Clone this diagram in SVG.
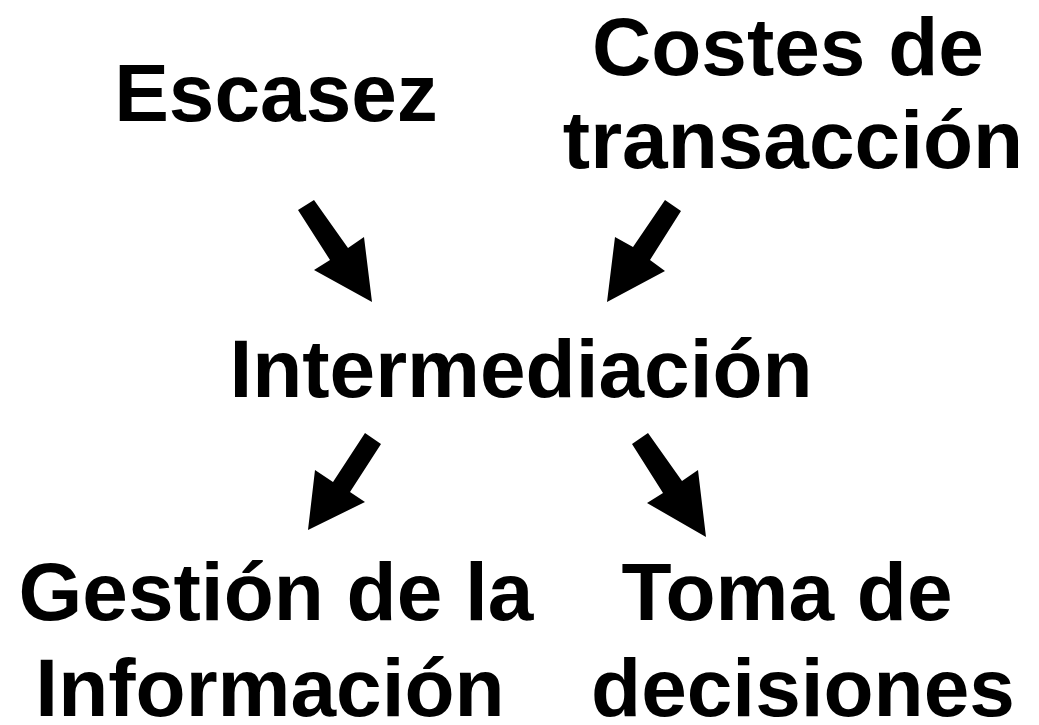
<svg xmlns="http://www.w3.org/2000/svg" width="1039" height="725" viewBox="0 0 1039 725">
<style>
text{font-family:"Liberation Sans",Arial,sans-serif;font-weight:bold;font-size:82px;fill:#000;text-anchor:middle}
.arrow{fill:#000;stroke:none}
</style>
<rect width="1039" height="725" fill="#fff"/>
<g id="escasez"><text x="276" y="121">Escasez</text></g>
<g id="costes"><text x="788" y="75">Costes de</text><text x="793" y="168">transacción</text></g>
<g id="intermediacion"><text x="521" y="397">Intermediación</text></g>
<g id="gestion"><text x="276" y="620">Gestión de la</text><text x="270" y="716">Información</text></g>
<g id="toma"><text x="787" y="620">Toma de</text><text x="803" y="716">decisiones</text></g>
<g id="connectors">
<polygon class="arrow" points="298,210 314,200 348,248 364,237 372,302 314,270 330,260"/>
<polygon class="arrow" points="665,200 681,211 650,260 665,271 607,302 615,237 633,247"/>
<polygon class="arrow" points="365,433 381,444 350,492 365,502 308,530 315,470 333,482"/>
<polygon class="arrow" points="632,444 648,433 682,481 698,470 706,537 647,503 663,493"/>
</g>
</svg>
